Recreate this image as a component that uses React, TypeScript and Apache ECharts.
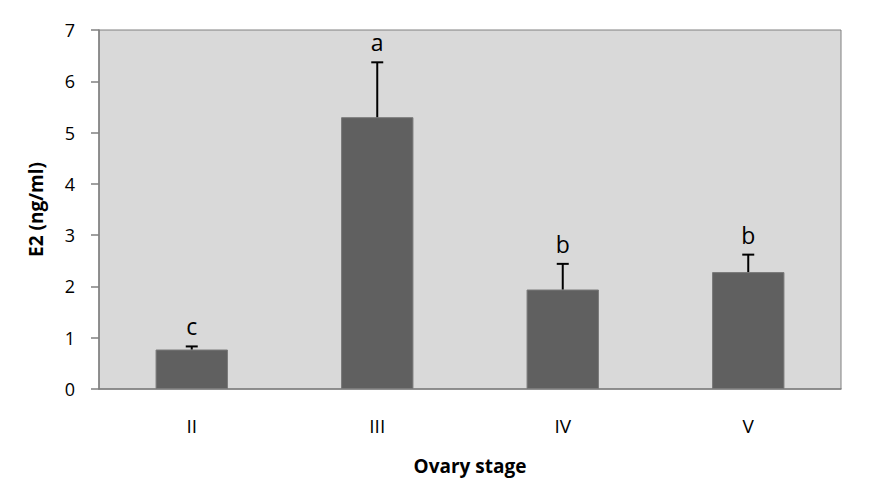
import React, { useEffect, useRef } from "react";
import * as echarts from "echarts";

const categories = ["II", "III", "IV", "V"];
const means = [0.77, 5.3, 1.94, 2.28];
const errors = [0.06, 1.07, 0.5, 0.34];
const letters = ["c", "a", "b", "b"];
const yTicks = [0, 1, 2, 3, 4, 5, 6, 7];

const FONT = "'Open Sans', 'Liberation Sans', sans-serif";

export default function App() {
  const ref = useRef<HTMLDivElement>(null);
  useEffect(() => {
    if (!ref.current) return;
    const chart = echarts.init(ref.current, undefined, { renderer: "svg" });
    chart.setOption({
      animation: false,
      grid: {
        left: 99,
        right: 41,
        top: 30,
        bottom: 89,
        show: true,
        backgroundColor: "#d9d9d9",
        borderColor: "#808080",
        borderWidth: 1,
      },
      xAxis: {
        type: "category",
        data: categories,
        name: "Ovary stage",
        nameLocation: "middle",
        nameGap: 67,
        nameMoveOverlap: false,
        nameTextStyle: { fontFamily: FONT, fontWeight: "bold", fontSize: 19, color: "#000" },
        axisTick: { show: false },
        axisLine: { lineStyle: { color: "#808080", width: 1.5 } },
        axisLabel: { fontFamily: FONT, fontSize: 19, color: "#000", margin: 27 },
      },
      yAxis: {
        type: "value",
        min: yTicks[0],
        max: yTicks[yTicks.length - 1],
        interval: 1,
        name: "E2 (ng/ml)",
        nameLocation: "middle",
        nameGap: 54,
        nameMoveOverlap: false,
        nameRotate: 90,
        nameTextStyle: { fontFamily: FONT, fontWeight: "bold", fontSize: 19, color: "#000" },
        axisLine: { show: true, lineStyle: { color: "#808080", width: 1.5 } },
        axisTick: { show: true, length: 8, lineStyle: { color: "#808080", width: 1.5 } },
        splitLine: { show: false },
        axisLabel: { fontFamily: FONT, fontSize: 18, color: "#000", margin: 24 },
      },
      series: [
        {
          type: "bar",
          data: means,
          barWidth: "39%",
          itemStyle: { color: "#606060", borderColor: "#7a7a7a", borderWidth: 1 },
        },
        {
          type: "custom",
          data: means.map((m, i) => [i, m, errors[i]]),
          z: 5,
          renderItem: (params: any, api: any) => {
            const i = api.value(0);
            const m = api.value(1);
            const e = api.value(2);
            const p0 = api.coord([i, m]);
            const p1 = api.coord([i, m + e]);
            const half = 6;
            return {
              type: "group",
              children: [
                {
                  type: "line",
                  shape: { x1: p0[0], y1: p0[1], x2: p1[0], y2: p1[1] },
                  style: { stroke: "#000", lineWidth: 2 },
                },
                {
                  type: "line",
                  shape: { x1: p1[0] - half, y1: p1[1], x2: p1[0] + half, y2: p1[1] },
                  style: { stroke: "#000", lineWidth: 2 },
                },
                {
                  type: "text",
                  style: {
                    text: letters[params.dataIndex],
                    x: p1[0],
                    y: p1[1] - 20,
                    textAlign: "center",
                    textVerticalAlign: "middle",
                    fontFamily: FONT,
                    fontSize: 23,
                    fill: "#000",
                  },
                },
              ],
            };
          },
        },
      ],
    });
    return () => chart.dispose();
  }, []);
  return (
    <div
      ref={ref}
      style={{ position: "absolute", left: 0, top: 0, width: 882, height: 480 }}
    />
  );
}
